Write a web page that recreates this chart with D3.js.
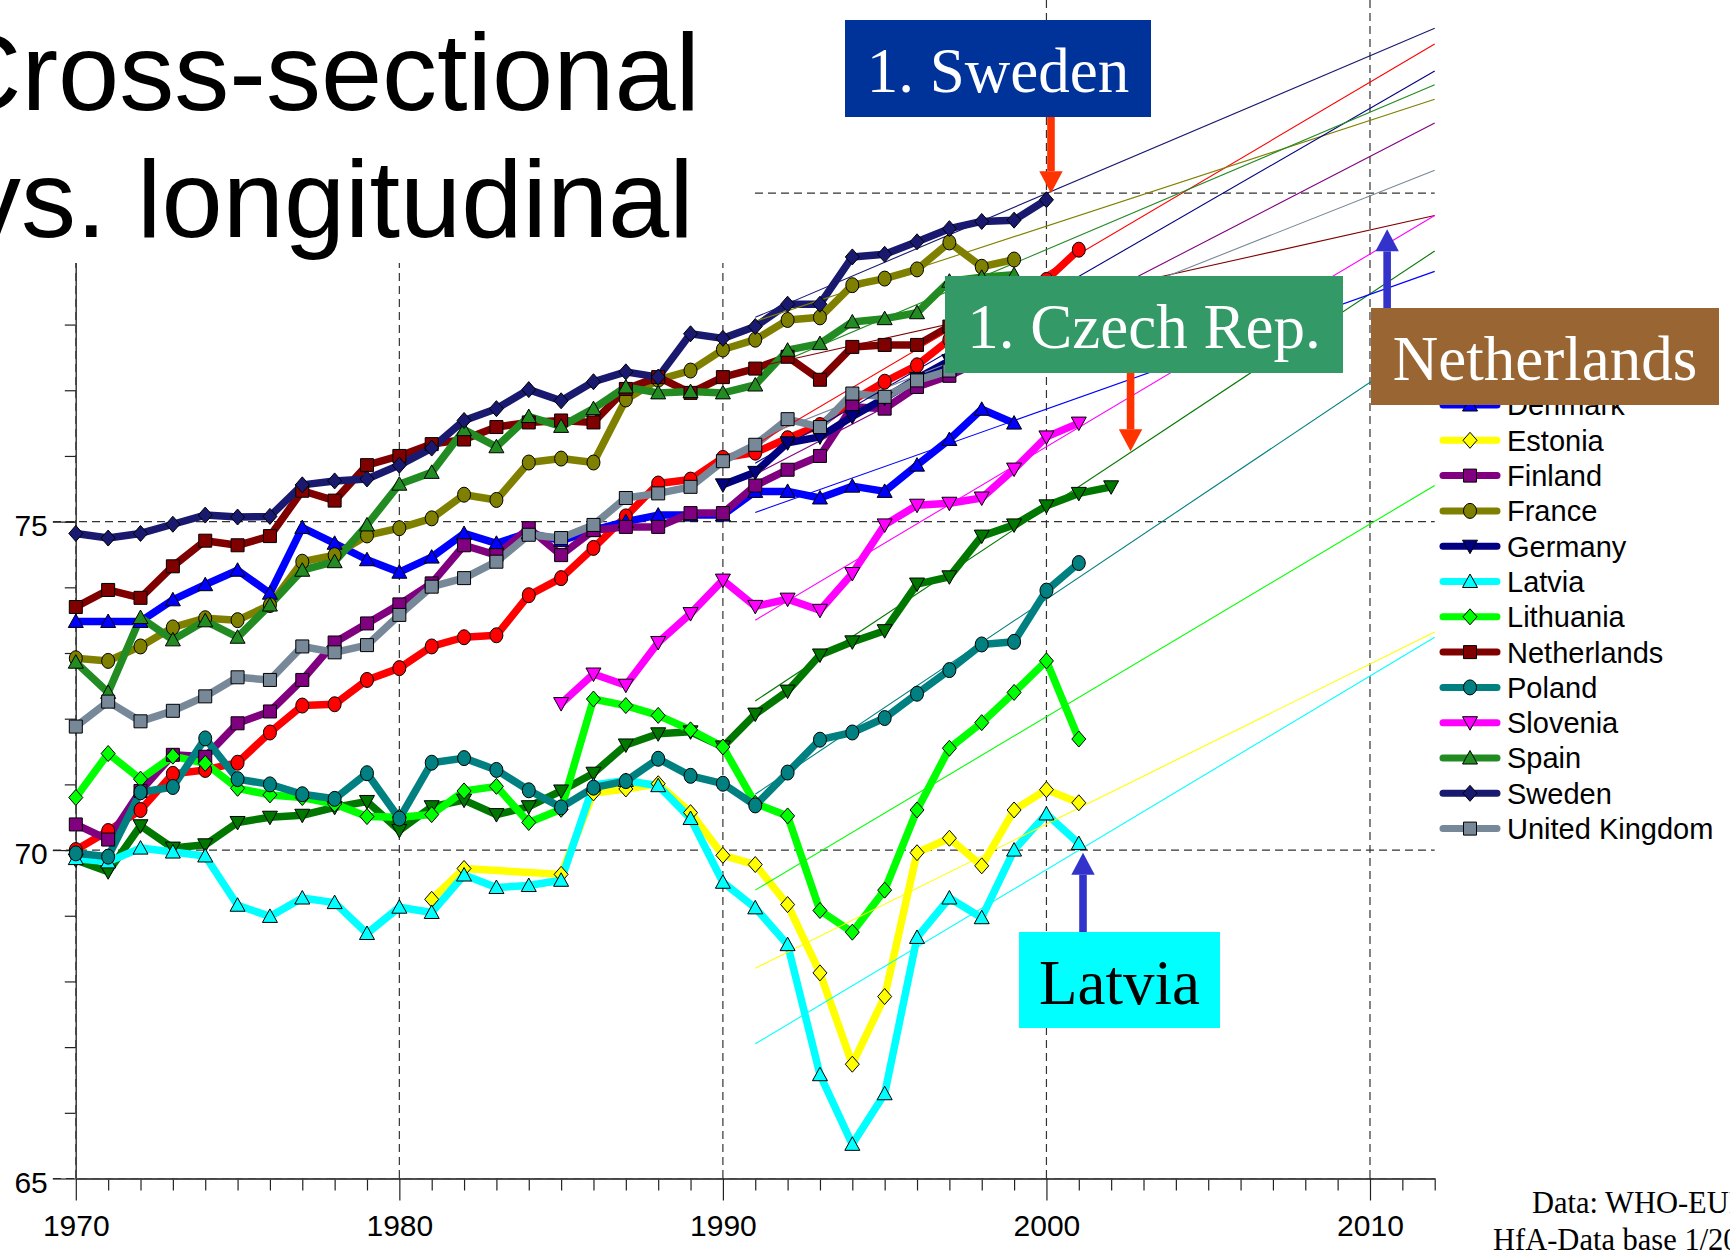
<!DOCTYPE html>
<html>
<head>
<meta charset="utf-8">
<script src="https://cdn.jsdelivr.net/npm/d3@7"></script>
<style>
  body { margin: 0; background: #fff; overflow: hidden; }
  svg { display: block; }
</style>
</head>
<body>
<script>
// life expectancy at birth, 1970-2002 (null = no value)
var years = [1970,1971,1972,1973,1974,1975,1976,1977,1978,1979,
             1980,1981,1982,1983,1984,1985,1986,1987,1988,1989,
             1990,1991,1992,1993,1994,1995,1996,1997,1998,1999,
             2000,2001,2002];

var austria = [70.00,70.29,70.61,71.16,71.22,71.33,71.79,72.20,72.22,72.59,
               72.77,73.10,73.24,73.27,73.88,74.14,74.60,75.08,75.58,75.64,
               75.97,76.05,76.27,76.47,76.84,77.13,77.38,77.77,78.00,78.20,
               78.68,79.14,null];
var czech = [69.85,69.67,70.37,70.03,70.08,70.42,70.50,70.53,70.65,70.74,
             70.30,70.66,70.76,70.54,70.66,70.90,71.17,71.60,71.77,71.80,
             71.57,72.07,72.42,72.97,73.17,73.34,74.05,74.16,74.78,74.95,
             75.24,75.43,75.53];
var denmark = [73.48,73.48,73.48,73.81,74.04,74.26,73.91,74.91,74.67,74.42,
               74.23,74.46,74.82,74.67,74.83,74.71,74.87,75.00,75.10,75.10,
               75.10,75.46,75.46,75.36,75.54,75.46,75.86,76.25,76.71,76.50,
               null,null,null];
var estonia = [null,null,null,null,null,null,null,null,null,null,
               null,69.25,69.72,null,null,69.63,70.87,70.93,71.01,70.57,
               69.92,69.78,69.17,68.13,66.74,67.77,69.96,70.18,69.76,70.61,
               70.92,70.72,null];
var finland = [70.39,70.16,70.90,71.45,71.42,71.93,72.11,72.59,73.16,73.45,
               73.74,74.06,74.64,74.49,74.90,74.49,74.87,74.92,74.92,75.13,
               75.13,75.55,75.79,76.00,76.75,76.72,77.05,77.22,77.45,77.60,
               77.80,78.00,null];
var france = [72.92,72.88,73.10,73.39,73.53,73.50,73.73,74.39,74.49,74.79,
              74.90,75.05,75.41,75.33,75.90,75.96,75.90,76.86,77.16,77.30,
              77.62,77.77,78.07,78.11,78.60,78.70,78.84,79.25,78.88,78.99,
              null,null,null];
var germany = [null,null,null,null,null,null,null,null,null,null,
               null,null,null,null,null,null,null,null,null,null,
               75.56,75.75,76.20,76.29,76.60,76.88,77.18,77.45,77.70,77.90,
               78.10,78.30,null];
var latvia = [69.87,69.82,70.03,69.97,69.91,69.16,68.99,69.27,69.20,68.73,
              69.13,69.05,69.62,69.43,69.46,69.54,70.99,71.06,70.98,70.48,
              69.51,69.12,68.56,66.58,65.52,66.29,68.67,69.27,68.97,70.00,
              70.55,70.10,null];
var lithuania = [70.80,71.47,71.08,71.43,71.32,70.94,70.84,70.80,70.70,70.51,
                 70.50,70.54,70.90,70.97,70.42,70.62,72.30,72.20,72.05,71.83,
                 71.57,70.71,70.52,69.08,68.75,69.39,70.61,71.55,71.94,72.40,
                 72.88,71.69,null];
var netherlands = [73.70,73.96,73.84,74.32,74.71,74.64,74.78,75.47,75.32,75.86,
                   76.00,76.18,76.25,76.44,76.51,76.54,76.51,77.02,77.20,76.96,
                   77.20,77.33,77.51,77.16,77.66,77.69,77.69,77.97,78.00,78.10,
                   78.20,78.30,null];
var poland = [69.95,69.90,70.88,70.96,71.70,71.08,71.00,70.85,70.78,71.17,
              70.48,71.33,71.40,71.22,70.91,70.65,70.95,71.05,71.39,71.13,
              71.01,70.68,71.18,71.68,71.79,72.01,72.38,72.74,73.13,73.17,
              73.95,74.37,null];
var slovenia = [null,null,null,null,null,null,null,null,null,null,
                null,null,null,null,null,72.23,72.68,72.51,73.16,73.60,
                74.11,73.71,73.82,73.65,74.21,74.95,75.25,75.28,75.36,75.80,
                76.29,76.50,null];
var spain = [72.86,72.40,73.54,73.20,73.49,73.24,73.73,74.26,74.39,74.95,
             75.57,75.75,76.40,76.14,76.60,76.45,76.72,77.05,76.96,76.98,
             76.96,77.08,77.61,77.71,78.04,78.09,78.18,78.66,78.72,78.76,
             null,null,null];
var sweden = [74.82,74.75,74.82,74.96,75.10,75.07,75.08,75.56,75.62,75.65,
              75.86,76.12,76.54,76.72,77.01,76.84,77.13,77.28,77.20,77.86,
              77.79,77.97,78.31,78.31,79.03,79.07,79.26,79.46,79.57,79.59,
              79.90,null,null];
var uk = [71.88,72.26,71.96,72.12,72.34,72.63,72.59,73.10,73.01,73.12,
          73.58,74.01,74.14,74.39,74.80,74.75,74.95,75.36,75.43,75.53,
          75.92,76.17,76.56,76.44,76.95,76.90,77.15,77.30,77.45,77.55,
          77.80,78.00,null];

var countries = ["Austria","Czech Republic","Denmark","Estonia","Finland","France","Germany",
                 "Latvia","Lithuania","Netherlands","Poland","Slovenia","Spain","Sweden","United Kingdom"];
var values = [austria, czech, denmark, estonia, finland, france, germany,
              latvia, lithuania, netherlands, poland, slovenia, spain, sweden, uk];

// linear trends 1991-2001, extended to 2012
var fitYears = [1991, 2012];
var fit1991 = [76.17,72.27,75.14,68.20,75.72,78.05,75.89,67.05,69.39,77.35,70.85,73.50,77.26,78.11,76.25];
var fit2012 = [82.27,79.12,78.81,73.32,81.07,81.43,81.86,73.24,75.55,79.66,77.78,79.66,81.65,82.51,80.35];

var tickYears = [1970, 1980, 1990, 2000, 2010];
var tickValues = [65, 70, 75];
var gridValues = [65, 70, 75, 80];

var colors = ["#ff0000","#007800","#0000ff","#ffff00","#800080","#808000","#000080",
              "#00ffff","#00ff00","#800000","#008080","#ff00ff","#228b22","#191970","#778899"];
var shapes = ["circle","down","up","diamond","square","circle","down",
              "up","diamond","square","circle","down","up","diamond","square"];

var W = 1730, H = 1255;
var x = d3.scaleLinear().domain([1970, 2012]).range([75.8, 1434.7]);
var y = d3.scaleLinear().domain([65, 80]).range([1178.5, 193.2]);

var svg = d3.select("body").append("svg")
    .attr("width", W)
    .attr("height", H);

function markerPath(shape) {
  if (shape == "circle") return "M-6.5,0a6.5,7.5 0 1,0 13,0a6.5,7.5 0 1,0 -13,0Z";
  if (shape == "square") return "M-6.5,-6.5H6.5V6.5H-6.5Z";
  if (shape == "up") return "M0,-7.5L7.5,6L-7.5,6Z";
  if (shape == "down") return "M0,7.5L7.5,-6L-7.5,-6Z";
  return "M0,-8L7,0L0,8L-7,0Z";
}

var series = countries.map(function(c, i) {
  return {
    name: c,
    row: i,
    color: colors[i],
    shape: shapes[i],
    points: years.map(function(yr, j) { return {year: yr, v: values[i][j]}; })
                 .filter(function(d) { return d.v != null; }),
    fit: [{year: fitYears[0], v: fit1991[i]}, {year: fitYears[1], v: fit2012[i]}]
  };
});

// grid
svg.append("g").selectAll("line")
  .data(tickYears).enter().append("line")
    .attr("x1", function(d) { return x(d); })
    .attr("x2", function(d) { return x(d); })
    .attr("y1", 0)
    .attr("y2", y(65))
    .attr("stroke", "#333")
    .attr("stroke-width", 1.2)
    .attr("stroke-dasharray", "8,5");

svg.append("g").selectAll("line")
  .data(gridValues).enter().append("line")
    .attr("x1", 53)
    .attr("x2", x(2012))
    .attr("y1", function(d) { return y(d); })
    .attr("y2", function(d) { return y(d); })
    .attr("stroke", "#333")
    .attr("stroke-width", 1.2)
    .attr("stroke-dasharray", "8,5");

// axes
var minorYears = d3.range(1971, 2013).filter(function(d) { return d % 10 != 0; });
var xMinor = d3.axisBottom(x).tickValues(minorYears).tickFormat("").tickSize(12).tickSizeOuter(0);
var xMajor = d3.axisBottom(x).tickValues(tickYears).tickFormat(d3.format("d"))
    .tickSize(22).tickPadding(14).tickSizeOuter(0);
var yMinor = d3.axisLeft(y).tickValues(d3.range(66, 80)).tickFormat("").tickSize(11).tickSizeOuter(0);
var yMajor = d3.axisLeft(y).tickValues(tickValues).tickSize(23).tickPadding(5).tickSizeOuter(0);

svg.append("g").attr("transform", "translate(0," + y(65) + ")").call(xMinor);
svg.append("g").attr("class", "x axis").attr("transform", "translate(0," + y(65) + ")").call(xMajor);
svg.append("g").attr("transform", "translate(" + x(1970) + ",0)").call(yMinor);
svg.append("g").attr("class", "y axis").attr("transform", "translate(" + x(1970) + ",0)").call(yMajor);

svg.selectAll(".domain").attr("stroke", "#444").attr("stroke-width", 1.3);
svg.selectAll(".tick line").attr("stroke", "#222").attr("stroke-width", 1.2);
svg.selectAll(".tick text")
  .attr("font-family", "'Liberation Sans', Arial, sans-serif")
  .attr("font-size", 30)
  .attr("fill", "#000");
svg.selectAll(".y.axis .tick text").attr("dy", "0.45em");

// data lines, then trend lines, then markers
var line = d3.line()
  .x(function(d) { return x(d.year); })
  .y(function(d) { return y(d.v); });

svg.append("g").selectAll("path")
  .data(series).enter().append("path")
    .attr("d", function(s) { return line(s.points); })
    .attr("fill", "none")
    .attr("stroke", function(s) { return s.color; })
    .attr("stroke-width", 7.5)
    .attr("stroke-linejoin", "round");

svg.append("g").selectAll("path")
  .data(series).enter().append("path")
    .attr("d", function(s) { return line(s.fit); })
    .attr("fill", "none")
    .attr("stroke", function(s) { return s.color; })
    .attr("stroke-width", 1.1);

series.forEach(function(s) {
  svg.append("g").selectAll("path")
    .data(s.points).enter().append("path")
      .attr("d", markerPath(s.shape))
      .attr("transform", function(d) { return "translate(" + x(d.year) + "," + y(d.v) + ")"; })
      .attr("fill", s.color)
      .attr("stroke", "#000")
      .attr("stroke-width", 1);
});

// title on white
svg.append("rect").attr("x", 0).attr("y", 0).attr("width", 752).attr("height", 263).attr("fill", "#fff");
var title = svg.append("g")
  .attr("font-family", "'Liberation Sans', Arial, sans-serif")
  .attr("font-size", 110)
  .attr("fill", "#000");
title.append("text").attr("x", -58).attr("y", 110).text("Cross-sectional");
title.append("text").attr("x", -34).attr("y", 237).text("vs. longitudinal");

// legend (the first two rows sit under the Netherlands label, so they are left out)
var legend = svg.append("g").selectAll("g")
  .data(series.filter(function(d) { return d.row >= 2; })).enter().append("g")
    .attr("transform", function(d) { return "translate(0," + (334.4 + d.row * 35.3) + ")"; });
legend.append("line")
  .attr("x1", 1443).attr("x2", 1497)
  .attr("stroke", function(d) { return d.color; })
  .attr("stroke-width", 7)
  .attr("stroke-linecap", "round");
legend.append("path")
  .attr("d", function(d) { return markerPath(d.shape); })
  .attr("transform", "translate(1470,0)")
  .attr("fill", function(d) { return d.color; })
  .attr("stroke", "#000");
legend.append("text")
  .attr("x", 1507)
  .attr("dy", "0.36em")
  .attr("font-family", "'Liberation Sans', Arial, sans-serif")
  .attr("font-size", 29)
  .text(function(d) { return d.name; });

// annotations
var notes = [
  {label: "1. Sweden", x: 845, y: 20, w: 306, h: 97, fill: "#003399", text: "#fff"},
  {label: "1. Czech Rep.", x: 945, y: 276, w: 398, h: 97, fill: "#339966", text: "#fff"},
  {label: "Netherlands", x: 1371, y: 308, w: 348, h: 97, fill: "#996633", text: "#fff"},
  {label: "Latvia", x: 1019, y: 932, w: 201, h: 96, fill: "#00ffff", text: "#000"}
];
var arrows = [
  {year: 2000.14, tip: 80.0, from: 117, color: "#ff3300"},
  {year: 2002.6, tip: 76.07, from: 372, color: "#ff3300"},
  {year: 2010.53, tip: 79.45, from: 308, color: "#3333cc"},
  {year: 2001.13, tip: 69.96, from: 932, color: "#3333cc"}
];

arrows.forEach(function(a) {
  var ax = x(a.year), ty = y(a.tip);
  var dir = a.from > ty ? 1 : -1;      // 1: arrow points up
  var base = ty + dir * 22;
  svg.append("rect")
    .attr("x", ax - 3.8).attr("width", 7.6)
    .attr("y", Math.min(base, a.from)).attr("height", Math.abs(a.from - base))
    .attr("fill", a.color);
  svg.append("path")
    .attr("d", "M" + (ax - 11.7) + "," + base + "L" + (ax + 11.7) + "," + base + "L" + ax + "," + ty + "Z")
    .attr("fill", a.color);
});

notes.forEach(function(n) {
  svg.append("rect").attr("x", n.x).attr("y", n.y).attr("width", n.w).attr("height", n.h).attr("fill", n.fill);
  svg.append("text")
    .attr("x", n.x + n.w / 2).attr("y", n.y + 72)
    .attr("text-anchor", "middle")
    .attr("font-family", "'Liberation Serif', 'Times New Roman', serif")
    .attr("font-size", 63)
    .attr("fill", n.text)
    .text(n.label);
});

// source
var source = svg.append("g")
  .attr("font-family", "'Liberation Serif', 'Times New Roman', serif")
  .attr("font-size", 30.5)
  .attr("fill", "#000");
source.append("text").attr("x", 1532).attr("y", 1213).text("Data: WHO-EURO");
source.append("text").attr("x", 1493).attr("y", 1250).text("HfA-Data base 1/2004");
</script>
</body>
</html>
